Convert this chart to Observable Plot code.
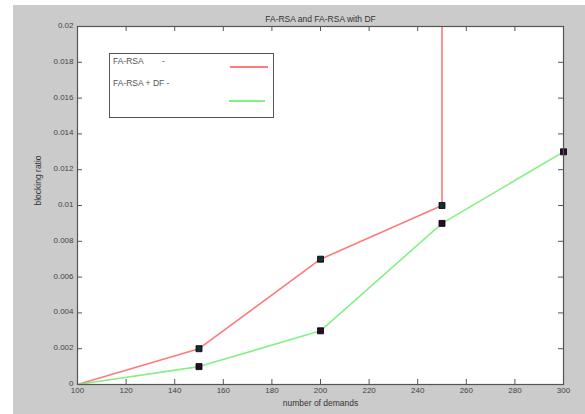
<!DOCTYPE html>
<html>
<head>
<meta charset="utf-8">
<script src="https://cdn.jsdelivr.net/npm/d3@7"></script>
<script src="https://cdn.jsdelivr.net/npm/@observablehq/plot@0.6"></script>
<style>
  html, body { margin: 0; padding: 0; background: #ffffff; }
  #wrap { position: relative; width: 585px; height: 414px; overflow: hidden; font-family: "Liberation Sans", Arial, sans-serif; }
  #bg { position: absolute; left: 13px; top: 5px; width: 572px; height: 409px; background: #cbcbcb; }
  #chart { position: absolute; left: 0; top: 0; }
  #legend { position: absolute; left: 109px; top: 53px; width: 163px; height: 63px; border: 1px solid #555; background: #fff; font-size: 8.5px; color: #555; }
  .lt { position: absolute; white-space: pre; }
  .ll { position: absolute; height: 2px; }
</style>
</head>
<body>
<div id="wrap"><div id="bg"></div><div id="chart"></div><div id="legend"></div></div>
<script>
const titleText = "FA-RSA and FA-RSA with DF";
const xLabel = "number of demands";
const yLabel = "blocking ratio";
const xTicks = [100, 120, 140, 160, 180, 200, 220, 240, 260, 280, 300];
const yTicks = [0, 0.002, 0.004, 0.006, 0.008, 0.01, 0.012, 0.014, 0.016, 0.018, 0.02];

// FA-RSA (red): last point shoots off the top of the axes at 250 demands
const redDemands = [100, 150, 200, 250, 250];
const redRatio   = [0, 0.002, 0.007, 0.01, 0.03];
const redMarked  = [false, true, true, true, false];

// FA-RSA + DF (green)
const greenDemands = [100, 150, 200, 250, 300];
const greenRatio   = [0, 0.001, 0.003, 0.009, 0.013];
const greenMarked  = [false, true, true, true, true];

const legendNames = ["FA-RSA        -", "FA-RSA + DF -"];
const legendColors = ["#ff7a7a", "#86f086"];

const red = redDemands.map((x, i) => ({x, y: redRatio[i], m: redMarked[i]}));
const green = greenDemands.map((x, i) => ({x, y: greenRatio[i], m: greenMarked[i]}));
const fmt = d3.format("~g");

const W = 585, H = 414, mL = 77, mR = 22, mT = 26, mB = 30, tick = 5;
const fw = W - mL - mR, fh = H - mT - mB;

const plot = Plot.plot({
  width: W,
  height: H,
  marginLeft: mL,
  marginRight: mR,
  marginTop: mT,
  marginBottom: mB,
  style: {background: "transparent", fontFamily: "Liberation Sans, Arial, sans-serif", fontSize: "8px", color: "#444"},
  x: {domain: [100, 300]},
  y: {domain: [0, 0.02]},
  marks: [
    Plot.frame({fill: "white", stroke: "none"}),
    Plot.line(red, {x: "x", y: "y", stroke: legendColors[0], strokeWidth: 1.6, clip: true}),
    Plot.line(green, {x: "x", y: "y", stroke: legendColors[1], strokeWidth: 1.6, clip: true}),
    Plot.dot(red.filter(d => d.m), {x: "x", y: "y", symbol: "square", r: 3.4, fill: "#12302e", stroke: "#000", strokeWidth: 0.8}),
    Plot.dot(green.filter(d => d.m), {x: "x", y: "y", symbol: "square", r: 3.4, fill: "#2a0a2a", stroke: "#000", strokeWidth: 0.8}),
    // inward tick marks on all four sides
    Plot.ruleX(xTicks, {x: d => d, insetTop: fh - tick, stroke: "#555"}),
    Plot.ruleX(xTicks, {x: d => d, insetBottom: fh - tick, stroke: "#555"}),
    Plot.ruleY(yTicks, {y: d => d, insetRight: fw - tick, stroke: "#555"}),
    Plot.ruleY(yTicks, {y: d => d, insetLeft: fw - tick, stroke: "#555"}),
    Plot.frame({stroke: "#555", strokeWidth: 1.2}),
    Plot.axisX({anchor: "bottom", ticks: xTicks, tickSize: 0, tickPadding: 3, tickFormat: fmt, label: null, fill: "#444"}),
    Plot.axisY({anchor: "left", ticks: yTicks, tickSize: 0, tickPadding: 4, tickFormat: fmt, label: null, fill: "#444", dy: -1}),
    Plot.text([titleText], {frameAnchor: "top", dy: -11, fontSize: 8.5, fill: "#333"}),
    Plot.text([xLabel], {frameAnchor: "bottom", dy: 21, fontSize: 8.5, fill: "#333"}),
    Plot.text([yLabel], {frameAnchor: "left", dx: -39, rotate: -90, fontSize: 8.5, fill: "#333"})
  ]
});
document.getElementById("chart").appendChild(plot);

const legend = document.getElementById("legend");
const textTops = [2, 24];
const lineTops = [12, 46];
const lineLefts = [120, 119];
const lineWidths = [38, 36];
legendNames.forEach((name, i) => {
  const t = document.createElement("div");
  t.className = "lt";
  t.style.left = "3px";
  t.style.top = textTops[i] + "px";
  t.textContent = name;
  legend.appendChild(t);
  const l = document.createElement("div");
  l.className = "ll";
  l.style.left = lineLefts[i] + "px";
  l.style.top = lineTops[i] + "px";
  l.style.width = lineWidths[i] + "px";
  l.style.background = legendColors[i];
  legend.appendChild(l);
});
</script>
</body>
</html>
